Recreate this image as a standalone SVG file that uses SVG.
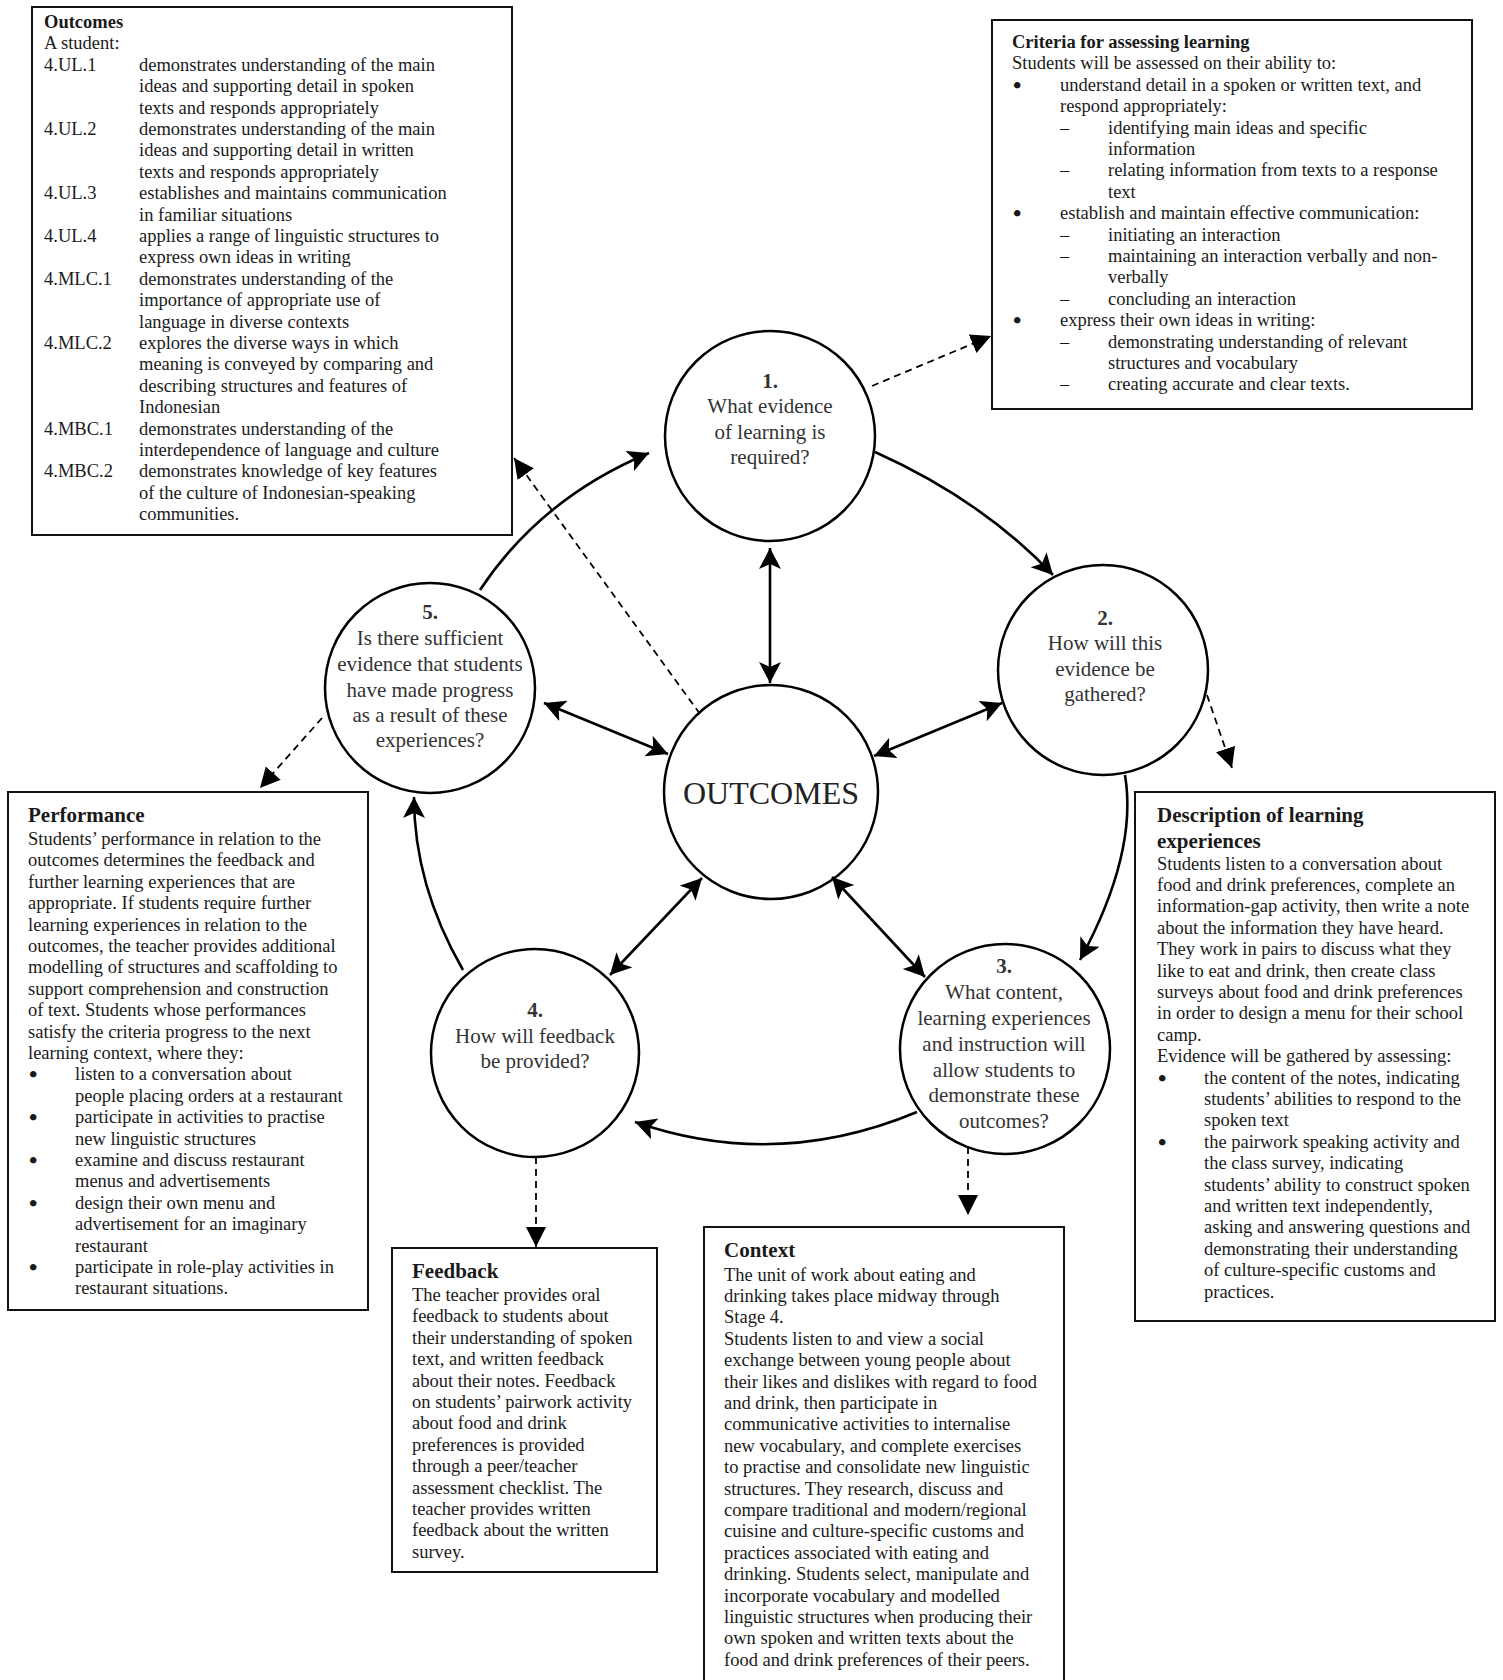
<svg xmlns="http://www.w3.org/2000/svg" width="1503" height="1680" viewBox="0 0 1503 1680">
<defs>
<style>
.box{fill:#fff;stroke:#111;stroke-width:2}
.t{font-family:"Liberation Serif","Times New Roman",serif;font-size:18.5px;fill:#1a1a1a}
.b{font-weight:bold}
.h{font-weight:bold;font-size:21px}
.bu{font-size:24px;font-weight:bold}
.ct{font-family:"Liberation Serif","Times New Roman",serif;font-size:21px;text-anchor:middle;fill:#333}
.big{font-family:"Liberation Serif","Times New Roman",serif;font-size:32px;text-anchor:middle;fill:#222}
.node{fill:#fff;stroke:#000;stroke-width:2.5}
.arr{fill:none;stroke:#000;stroke-width:2.6}
.dash{fill:none;stroke:#000;stroke-width:1.8;stroke-dasharray:7 5}
</style>
<marker id="ah" markerUnits="userSpaceOnUse" markerWidth="24" markerHeight="24" refX="21" refY="11" orient="auto-start-reverse" viewBox="0 0 24 24">
<path d="M0,0 L21,11 L0,22 L5,11 Z" fill="#000"/>
</marker>
<marker id="dh" markerUnits="userSpaceOnUse" markerWidth="22" markerHeight="22" refX="20" refY="10" orient="auto" viewBox="0 0 22 22">
<path d="M0,0 L20,10 L0,20 Z" fill="#000"/>
</marker>
</defs>
<rect width="1503" height="1680" fill="#fff"/>

<g id="box-outcomes">
<rect class="box" x="32" y="7" width="480" height="528"/>
<text class="t">
<tspan class="b" x="44" y="28">Outcomes</tspan>
<tspan x="44" y="49.4">A student:</tspan>
<tspan x="44" y="70.8">4.UL.1</tspan><tspan x="139" y="70.8">demonstrates understanding of the main</tspan>
<tspan x="139" y="92.2">ideas and supporting detail in spoken</tspan>
<tspan x="139" y="113.6">texts and responds appropriately</tspan>
<tspan x="44" y="135">4.UL.2</tspan><tspan x="139" y="135">demonstrates understanding of the main</tspan>
<tspan x="139" y="156.4">ideas and supporting detail in written</tspan>
<tspan x="139" y="177.8">texts and responds appropriately</tspan>
<tspan x="44" y="199.2">4.UL.3</tspan><tspan x="139" y="199.2">establishes and maintains communication</tspan>
<tspan x="139" y="220.6">in familiar situations</tspan>
<tspan x="44" y="242">4.UL.4</tspan><tspan x="139" y="242">applies a range of linguistic structures to</tspan>
<tspan x="139" y="263.4">express own ideas in writing</tspan>
<tspan x="44" y="284.8">4.MLC.1</tspan><tspan x="139" y="284.8">demonstrates understanding of the</tspan>
<tspan x="139" y="306.2">importance of appropriate use of</tspan>
<tspan x="139" y="327.6">language in diverse contexts</tspan>
<tspan x="44" y="349">4.MLC.2</tspan><tspan x="139" y="349">explores the diverse ways in which</tspan>
<tspan x="139" y="370.4">meaning is conveyed by comparing and</tspan>
<tspan x="139" y="391.8">describing structures and features of</tspan>
<tspan x="139" y="413.2">Indonesian</tspan>
<tspan x="44" y="434.6">4.MBC.1</tspan><tspan x="139" y="434.6">demonstrates understanding of the</tspan>
<tspan x="139" y="456">interdependence of language and culture</tspan>
<tspan x="44" y="477.4">4.MBC.2</tspan><tspan x="139" y="477.4">demonstrates knowledge of key features</tspan>
<tspan x="139" y="498.8">of the culture of Indonesian-speaking</tspan>
<tspan x="139" y="520.2">communities.</tspan>
</text>
</g>

<g id="box-criteria">
<rect class="box" x="992" y="20" width="480" height="389"/>
<text class="t">
<tspan class="b" x="1012" y="48">Criteria for assessing learning</tspan>
<tspan x="1012" y="69.4">Students will be assessed on their ability to:</tspan>
<tspan class="bu" x="1013" y="92.8">•</tspan><tspan x="1060" y="90.8">understand detail in a spoken or written text, and</tspan>
<tspan x="1060" y="112.2">respond appropriately:</tspan>
<tspan x="1060" y="133.6">–</tspan><tspan x="1108" y="133.6">identifying main ideas and specific</tspan>
<tspan x="1108" y="155">information</tspan>
<tspan x="1060" y="176.4">–</tspan><tspan x="1108" y="176.4">relating information from texts to a response</tspan>
<tspan x="1108" y="197.8">text</tspan>
<tspan class="bu" x="1013" y="221.2">•</tspan><tspan x="1060" y="219.2">establish and maintain effective communication:</tspan>
<tspan x="1060" y="240.6">–</tspan><tspan x="1108" y="240.6">initiating an interaction</tspan>
<tspan x="1060" y="262">–</tspan><tspan x="1108" y="262">maintaining an interaction verbally and non-</tspan>
<tspan x="1108" y="283.4">verbally</tspan>
<tspan x="1060" y="304.8">–</tspan><tspan x="1108" y="304.8">concluding an interaction</tspan>
<tspan class="bu" x="1013" y="328.2">•</tspan><tspan x="1060" y="326.2">express their own ideas in writing:</tspan>
<tspan x="1060" y="347.6">–</tspan><tspan x="1108" y="347.6">demonstrating understanding of relevant</tspan>
<tspan x="1108" y="369">structures and vocabulary</tspan>
<tspan x="1060" y="390.4">–</tspan><tspan x="1108" y="390.4">creating accurate and clear texts.</tspan>
</text>
</g>

<g id="box-performance">
<rect class="box" x="8" y="792" width="360" height="518"/>
<text class="t">
<tspan class="h" x="28" y="822">Performance</tspan>
<tspan x="28" y="845">Students’ performance in relation to the</tspan>
<tspan x="28" y="866.4">outcomes determines the feedback and</tspan>
<tspan x="28" y="887.8">further learning experiences that are</tspan>
<tspan x="28" y="909.2">appropriate. If students require further</tspan>
<tspan x="28" y="930.6">learning experiences in relation to the</tspan>
<tspan x="28" y="952">outcomes, the teacher provides additional</tspan>
<tspan x="28" y="973.4">modelling of structures and scaffolding to</tspan>
<tspan x="28" y="994.8">support comprehension and construction</tspan>
<tspan x="28" y="1016.2">of text. Students whose performances</tspan>
<tspan x="28" y="1037.6">satisfy the criteria progress to the next</tspan>
<tspan x="28" y="1059">learning context, where they:</tspan>
<tspan class="bu" x="29" y="1082.4">•</tspan><tspan x="75" y="1080.4">listen to a conversation about</tspan>
<tspan x="75" y="1101.8">people placing orders at a restaurant</tspan>
<tspan class="bu" x="29" y="1125.2">•</tspan><tspan x="75" y="1123.2">participate in activities to practise</tspan>
<tspan x="75" y="1144.6">new linguistic structures</tspan>
<tspan class="bu" x="29" y="1168">•</tspan><tspan x="75" y="1166">examine and discuss restaurant</tspan>
<tspan x="75" y="1187.4">menus and advertisements</tspan>
<tspan class="bu" x="29" y="1210.8">•</tspan><tspan x="75" y="1208.8">design their own menu and</tspan>
<tspan x="75" y="1230.2">advertisement for an imaginary</tspan>
<tspan x="75" y="1251.6">restaurant</tspan>
<tspan class="bu" x="29" y="1275">•</tspan><tspan x="75" y="1273">participate in role-play activities in</tspan>
<tspan x="75" y="1294.4">restaurant situations.</tspan>
</text>
</g>

<g id="box-description">
<rect class="box" x="1135" y="792" width="360" height="529"/>
<text class="t">
<tspan class="h" x="1157" y="822">Description of learning</tspan>
<tspan class="h" x="1157" y="848">experiences</tspan>
<tspan x="1157" y="869.5">Students listen to a conversation about</tspan>
<tspan x="1157" y="890.9">food and drink preferences, complete an</tspan>
<tspan x="1157" y="912.3">information-gap activity, then write a note</tspan>
<tspan x="1157" y="933.7">about the information they have heard.</tspan>
<tspan x="1157" y="955.1">They work in pairs to discuss what they</tspan>
<tspan x="1157" y="976.5">like to eat and drink, then create class</tspan>
<tspan x="1157" y="997.9">surveys about food and drink preferences</tspan>
<tspan x="1157" y="1019.3">in order to design a menu for their school</tspan>
<tspan x="1157" y="1040.7">camp.</tspan>
<tspan x="1157" y="1062.1">Evidence will be gathered by assessing:</tspan>
<tspan class="bu" x="1158" y="1085.5">•</tspan><tspan x="1204" y="1083.5">the content of the notes, indicating</tspan>
<tspan x="1204" y="1104.9">students’ abilities to respond to the</tspan>
<tspan x="1204" y="1126.3">spoken text</tspan>
<tspan class="bu" x="1158" y="1149.7">•</tspan><tspan x="1204" y="1147.7">the pairwork speaking activity and</tspan>
<tspan x="1204" y="1169.1">the class survey, indicating</tspan>
<tspan x="1204" y="1190.5">students’ ability to construct spoken</tspan>
<tspan x="1204" y="1211.9">and written text independently,</tspan>
<tspan x="1204" y="1233.3">asking and answering questions and</tspan>
<tspan x="1204" y="1254.7">demonstrating their understanding</tspan>
<tspan x="1204" y="1276.1">of culture-specific customs and</tspan>
<tspan x="1204" y="1297.5">practices.</tspan>
</text>
</g>

<g id="box-feedback">
<rect class="box" x="392" y="1248" width="265" height="324"/>
<text class="t">
<tspan class="h" x="412" y="1278">Feedback</tspan>
<tspan x="412" y="1301">The teacher provides oral</tspan>
<tspan x="412" y="1322.4">feedback to students about</tspan>
<tspan x="412" y="1343.8">their understanding of spoken</tspan>
<tspan x="412" y="1365.2">text, and written feedback</tspan>
<tspan x="412" y="1386.6">about their notes. Feedback</tspan>
<tspan x="412" y="1408">on students’ pairwork activity</tspan>
<tspan x="412" y="1429.4">about food and drink</tspan>
<tspan x="412" y="1450.8">preferences is provided</tspan>
<tspan x="412" y="1472.2">through a peer/teacher</tspan>
<tspan x="412" y="1493.6">assessment checklist. The</tspan>
<tspan x="412" y="1515">teacher provides written</tspan>
<tspan x="412" y="1536.4">feedback about the written</tspan>
<tspan x="412" y="1557.8">survey.</tspan>
</text>
</g>

<g id="box-context">
<rect class="box" x="704" y="1227" width="360" height="470"/>
<text class="t">
<tspan class="h" x="724" y="1257">Context</tspan>
<tspan x="724" y="1280.5">The unit of work about eating and</tspan>
<tspan x="724" y="1301.9">drinking takes place midway through</tspan>
<tspan x="724" y="1323.3">Stage 4.</tspan>
<tspan x="724" y="1344.7">Students listen to and view a social</tspan>
<tspan x="724" y="1366.1">exchange between young people about</tspan>
<tspan x="724" y="1387.5">their likes and dislikes with regard to food</tspan>
<tspan x="724" y="1408.9">and drink, then participate in</tspan>
<tspan x="724" y="1430.3">communicative activities to internalise</tspan>
<tspan x="724" y="1451.7">new vocabulary, and complete exercises</tspan>
<tspan x="724" y="1473.1">to practise and consolidate new linguistic</tspan>
<tspan x="724" y="1494.5">structures. They research, discuss and</tspan>
<tspan x="724" y="1515.9">compare traditional and modern/regional</tspan>
<tspan x="724" y="1537.3">cuisine and culture-specific customs and</tspan>
<tspan x="724" y="1558.7">practices associated with eating and</tspan>
<tspan x="724" y="1580.1">drinking. Students select, manipulate and</tspan>
<tspan x="724" y="1601.5">incorporate vocabulary and modelled</tspan>
<tspan x="724" y="1622.9">linguistic structures when producing their</tspan>
<tspan x="724" y="1644.3">own spoken and written texts about the</tspan>
<tspan x="724" y="1665.7">food and drink preferences of their peers.</tspan>
</text>
</g>

<g id="node-1">
<circle class="node" cx="770" cy="436" r="105"/>
<text class="ct"><tspan class="b" x="770" y="388">1.</tspan><tspan x="770" y="413">What evidence</tspan><tspan x="770" y="439">of learning is</tspan><tspan x="770" y="464">required?</tspan></text>
</g>
<g id="node-2">
<circle class="node" cx="1103" cy="670" r="105"/>
<text class="ct"><tspan class="b" x="1105" y="625">2.</tspan><tspan x="1105" y="650">How will this</tspan><tspan x="1105" y="676">evidence be</tspan><tspan x="1105" y="701">gathered?</tspan></text>
</g>
<g id="node-outcomes">
<circle class="node" cx="771" cy="792" r="107"/>
<text class="big" x="771" y="804">OUTCOMES</text>
</g>
<g id="node-3">
<circle class="node" cx="1005" cy="1049" r="105"/>
<text class="ct"><tspan class="b" x="1004" y="973">3.</tspan><tspan x="1004" y="999">What content,</tspan><tspan x="1004" y="1025">learning experiences</tspan><tspan x="1004" y="1051">and instruction will</tspan><tspan x="1004" y="1077">allow students to</tspan><tspan x="1004" y="1102">demonstrate these</tspan><tspan x="1004" y="1128">outcomes?</tspan></text>
</g>
<g id="node-4">
<circle class="node" cx="535" cy="1053" r="104"/>
<text class="ct"><tspan class="b" x="535" y="1017">4.</tspan><tspan x="535" y="1043">How will feedback</tspan><tspan x="535" y="1068">be provided?</tspan></text>
</g>
<g id="node-5">
<circle class="node" cx="430" cy="688" r="105"/>
<text class="ct"><tspan class="b" x="430" y="619">5.</tspan><tspan x="430" y="645">Is there sufficient</tspan><tspan x="430" y="671">evidence that students</tspan><tspan x="430" y="697">have made progress</tspan><tspan x="430" y="722">as a result of these</tspan><tspan x="430" y="747">experiences?</tspan></text>
</g>

<g id="connectors">
<path class="arr" d="M480,590 Q541,498 649,453" marker-end="url(#ah)"/>
<path class="arr" d="M875,452 Q982,500 1053,575" marker-end="url(#ah)"/>
<path class="arr" d="M1125,775 Q1138,853 1080,960" marker-end="url(#ah)"/>
<path class="arr" d="M917,1112 Q776,1171 635,1122" marker-end="url(#ah)"/>
<path class="arr" d="M463,970 Q414,885 414,797" marker-end="url(#ah)"/>
<path class="arr" d="M770,548 L770,683" marker-start="url(#ah)" marker-end="url(#ah)"/>
<path class="arr" d="M544,703 L668,754" marker-start="url(#ah)" marker-end="url(#ah)"/>
<path class="arr" d="M1002,703 L874,756" marker-start="url(#ah)" marker-end="url(#ah)"/>
<path class="arr" d="M610,975 L702,878" marker-start="url(#ah)" marker-end="url(#ah)"/>
<path class="arr" d="M832,877 L925,977" marker-start="url(#ah)" marker-end="url(#ah)"/>
<path class="dash" d="M872,386 L991,336" marker-end="url(#dh)"/>
<path class="dash" d="M700,714 L514,458" marker-end="url(#dh)"/>
<path class="dash" d="M322,718 L260,788" marker-end="url(#dh)"/>
<path class="dash" d="M1207,695 L1232,768" marker-end="url(#dh)"/>
<path class="dash" d="M536,1157 L536,1247" marker-end="url(#dh)"/>
<path class="dash" d="M968,1147 L968,1215" marker-end="url(#dh)"/>
</g>
</svg>
